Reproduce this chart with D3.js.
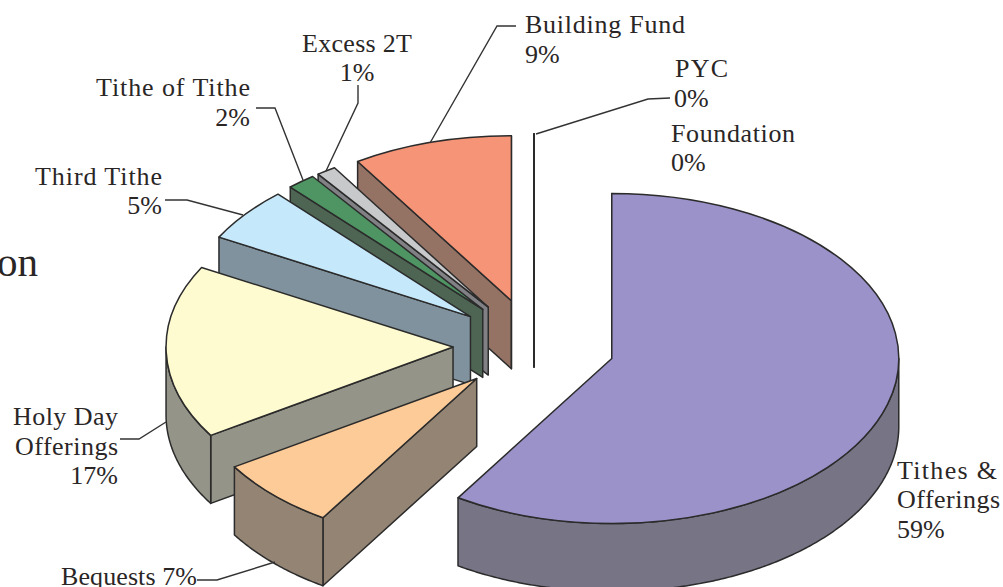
<!DOCTYPE html>
<html><head><meta charset="utf-8">
<script src="https://cdn.jsdelivr.net/npm/d3@7/dist/d3.min.js"></script>
<style>
html,body{margin:0;padding:0;background:#fff;overflow:hidden}
svg{display:block}
text{font-family:"Liberation Serif",serif;fill:#2a2626}
</style></head><body>
<script>
const categories = ["Tithes & Offerings","Bequests","Holy Day Offerings","Third Tithe","Tithe of Tithe","Excess 2T","Building Fund","PYC","Foundation"];
const shares = [59,7,17,5.3,1.6,1.1,9,0,0];
const topColors = ["#9a92c8","#fdcb98","#fffbd0","#c5e8fb","#4e9563","#c8c9cb","#f59476","#ffffff","#ffffff"];
const wallColors = ["#767485","#948473","#949488","#80929d","#4e6553","#808085","#947365","#808080","#808080"];

// label layout: [text, x, baseline, anchor, width]
const labelLines = [
 ["Building Fund",525,33,"start",160],["9%",525,63,"start"],
 ["PYC",675,77,"start",53],["0%",674,107,"start"],
 ["Foundation",671,142,"start",124],["0%",671,171,"start"],
 ["Excess 2T",302,52,"start",110],["1%",357,81,"middle"],
 ["Tithe of Tithe",96,96,"start",154],["2%",250,126,"end"],
 ["Third Tithe",35,185,"start",127],["5%",162,214,"end"],
 ["Holy Day",13,425,"start",105],["Offerings",15,455,"start",103],["17%",118,484,"end"],
 ["Bequests 7%",61,585,"start",136],
 ["Tithes &",897,479,"start",100],["Offerings",897,508,"start",103],["59%",897,538,"start"]
];
const leaders = [
 [[516,26],[497,26],[430,143]],
 [[670,98],[648,99],[536,134]],
 [[358,85],[358,103],[326,171]],
 [[256,108],[275,108],[303,180]],
 [[165,200],[187,200],[243,215]],
 [[120,439],[139,439],[166,422]],
 [[197,580],[217,580],[275,562]]
];

const W=1003,H=587;
const cx=534,cy=345.5,R=287,k=0.575,depth=68,explode=81;
const svg=d3.select("body").append("svg").attr("width",W).attr("height",H);

const pie=d3.pie().sort(null).value(d=>d.v);
const slices=pie(shares.map((v,i)=>({v,i})));
const arc=d3.arc().innerRadius(0).outerRadius(R);
const line=d3.line();
const px=a=>R*Math.sin(a), py=a=>-R*Math.cos(a)*k;
const stroke="#2b2b2b", sw=1.5;

const draw=slices.slice().reverse();
draw.forEach(s=>{
  const i=s.data.i, mid=(s.startAngle+s.endAngle)/2;
  const ox=cx+explode*Math.sin(mid), oy=cy-explode*Math.cos(mid)*k;
  const g=svg.append("g").attr("transform",`translate(${ox},${oy})`);
  const style=sel=>sel.attr("stroke",stroke).attr("stroke-width",sw).attr("stroke-linejoin","round").style("vector-effect","non-scaling-stroke");
  // radial walls: only those that face the viewer
  [[s.startAngle,-1],[s.endAngle,1]].forEach(([a,side])=>{
    if(side*Math.sin(a)>=-1e-9){
      g.append("path").attr("d",line([[0,0],[px(a),py(a)],[px(a),py(a)+depth],[0,depth]])+"Z")
        .attr("fill",wallColors[i]).call(style);
    }
  });
  // outer curved wall (front half only)
  const a0=Math.max(s.startAngle,Math.PI/2), a1=Math.min(s.endAngle,Math.PI*1.5);
  if(a1>a0){
    const angles=d3.range(a0,a1,0.01).concat([a1]);
    const area=d3.area().x(a=>px(a)).y0(a=>py(a)).y1(a=>py(a)+depth);
    g.append("path").attr("d",area(angles)).attr("fill",wallColors[i]).call(style);
  }
  // top face
  g.append("path").attr("transform",`scale(1,${k})`)
    .attr("d",arc({startAngle:s.startAngle,endAngle:s.endAngle}))
    .attr("fill",topColors[i]).call(style);
});

svg.append("g").selectAll("path").data(leaders).join("path")
  .attr("d",d=>line(d)).attr("fill","none").attr("stroke","#333").attr("stroke-width",1.4);

svg.append("g").selectAll("text").data(labelLines).join("text")
  .attr("x",d=>d[1]).attr("y",d=>d[2]).attr("text-anchor",d=>d[3])
  .attr("font-size",26)
  .each(function(d){ if(d[4]) d3.select(this).attr("textLength",d[4]).attr("lengthAdjust","spacing"); })
  .text(d=>d[0]);
svg.append("text").attr("x",-3).attr("y",276).attr("font-size",41).text("on");
</script>
</body></html>
